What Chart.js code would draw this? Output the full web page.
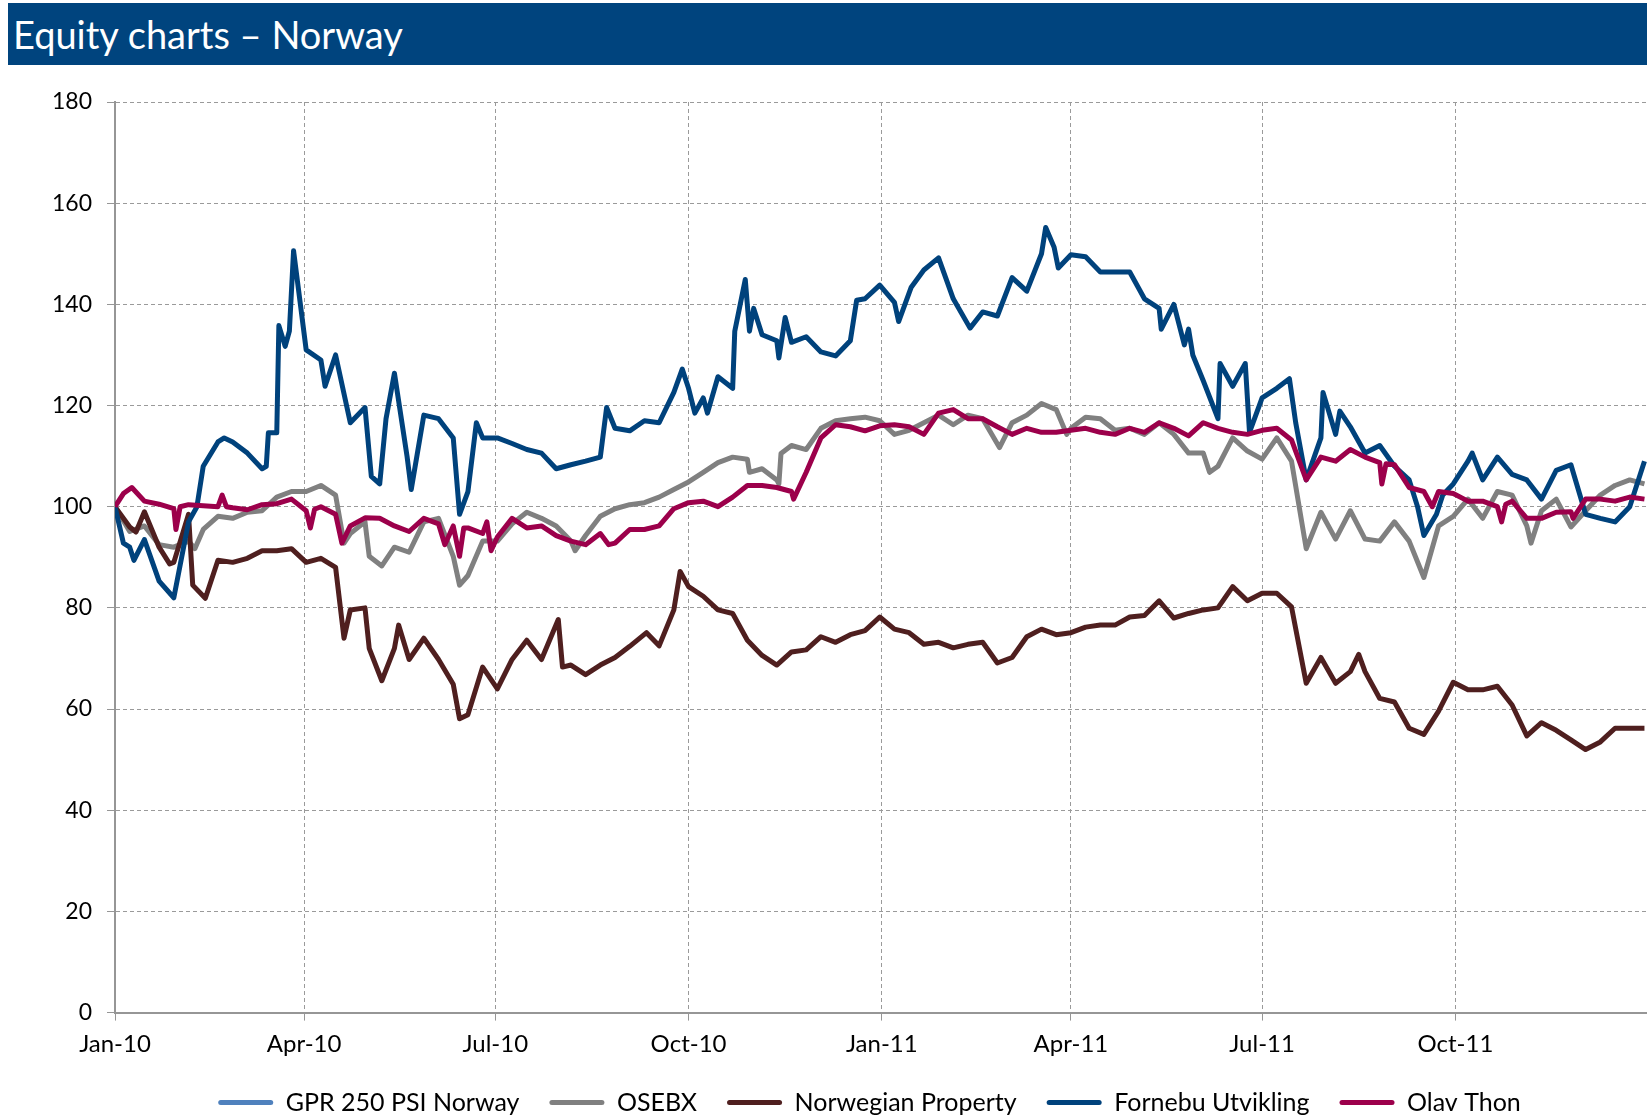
<!DOCTYPE html>
<html>
<head>
<meta charset="utf-8">
<title>Equity charts – Norway</title>
<script src="https://cdn.jsdelivr.net/npm/chart.js@4.4.1/dist/chart.umd.min.js"></script>
<style>
  html, body { margin: 0; padding: 0; background: #fff; overflow: hidden; width: 1647px; height: 1118px; }
  #title {
    position: absolute; left: 8px; top: 3px; width: 1639px; height: 62px;
    background: #00447e; color: #fff; font-family: Lato, sans-serif;
    font-size: 38px; line-height: 62px; padding-left: 5px; box-sizing: border-box; z-index: 2;
  }
  #mycanvas { position: absolute; left: 0; top: 0; }
</style>
</head>
<body>
<div id="title">Equity charts – Norway</div>
<canvas id="mycanvas" width="1739" height="1125"></canvas>
<script>
// x = calendar days since 1 Jan 2010, y = index (start = 100)
var tickDays = [0, 90, 181, 273, 365, 455, 546, 638];
var tickLabels = ['Jan-10', 'Apr-10', 'Jul-10', 'Oct-10', 'Jan-11', 'Apr-11', 'Jul-11', 'Oct-11'];

// no visible line for the index in the picture
var gprNorway = [];

var osebx = [
  [0,100],[7,95.1],[14,96.2],[21,92.5],[28,92],[35,93.2],[38,91.7],[42,95.5],[49,98.1],[56,97.7],
  [63,98.9],[70,99.2],[77,101.9],[84,103],[91,103],[98,104.2],[105,102.3],[109,92.8],[112,94.7],[119,97],
  [121,90.2],[127,88.3],[133,92],[140,91],[147,97],[154,97.7],[161,90.2],[164,84.5],[168,86.4],[175,93.2],
  [182,93.2],[189,96.6],[196,98.9],[203,97.7],[210,96.2],[217,93.2],[219,91.3],[224,94.3],[231,98.1],[238,99.6],
  [245,100.4],[252,100.8],[259,101.9],[266,103.4],[273,104.9],[280,106.8],[287,108.7],[294,109.8],[301,109.4],[302,106.8],
  [308,107.5],[315,105.3],[316,104.5],[317,110.5],[322,112.1],[329,111.3],[336,115.5],[343,117],[350,117.4],[357,117.7],
  [364,117],[371,114.3],[378,115.1],[385,116.6],[392,118.1],[399,116.2],[406,118.1],[413,117.4],[421,111.7],[427,116.6],
  [434,118.1],[441,120.4],[448,119.2],[453,114.3],[455,115.5],[462,117.7],[469,117.4],[476,115.1],[483,115.5],[490,114.3],
  [497,116.6],[504,114.3],[511,110.6],[518,110.6],[521,106.8],[525,108],[532,113.6],[539,111],[546,109.4],[553,113.6],
  [560,109],[567,91.7],[574,98.9],[581,93.6],[588,99.2],[595,93.6],[602,93.2],[609,97],[616,93.2],[623,86],
  [630,96.2],[637,98.1],[644,101.5],[651,97.7],[658,103],[665,102.3],[672,96.2],[674,92.8],[679,99.2],[686,101.5],
  [693,96],[700,99.2],[707,102.3],[714,104.2],[721,105.3],[728,104.5]
];

var norwegianProperty = [
  [0,100],[7,96],[10,95],[14,99],[21,92],[26,88.7],[28,89],[35,98.5],[37,84.5],[43,81.9],
  [49,89.4],[56,89],[63,89.8],[70,91.3],[77,91.3],[84,91.7],[91,89],[98,89.8],[105,88],[109,74],
  [112,79.6],[119,80],[121,72],[127,65.6],[133,72],[135,76.6],[140,69.8],[147,74],[154,69.8],[161,64.9],
  [164,58.1],[168,58.9],[175,68.3],[182,64],[189,69.8],[196,73.6],[203,69.8],[211,77.7],[213,68.3],[217,68.7],
  [224,66.8],[231,68.7],[238,70.2],[245,72.4],[253,75.1],[259,72.5],[266,79.6],[269,87.2],[273,84.2],[280,82.3],
  [287,79.6],[294,78.9],[301,73.6],[308,70.6],[315,68.7],[322,71.3],[329,71.7],[336,74.3],[343,73.2],[350,74.7],
  [357,75.5],[364,78.2],[371,75.8],[378,75.1],[385,72.8],[392,73.2],[399,72.1],[406,72.8],[413,73.2],[420,69.1],
  [427,70.2],[434,74.3],[441,75.8],[448,74.7],[455,75.1],[462,76.2],[469,76.6],[476,76.6],[483,78.2],[490,78.5],
  [497,81.4],[504,78],[511,78.9],[518,79.6],[525,80],[532,84.2],[539,81.4],[546,82.9],[553,82.9],[560,80.2],
  [567,65.1],[574,70.2],[581,65.1],[588,67.4],[592,70.8],[595,67.4],[602,62.1],[609,61.4],[616,56.2],[623,55],
  [630,59.6],[637,65.3],[644,63.8],[651,63.8],[658,64.5],[665,60.8],[672,54.7],[679,57.3],[686,55.8],[693,53.9],
  [700,52],[707,53.5],[714,56.2],[721,56.2],[728,56.2]
];

var fornebu = [
  [0,100],[4,92.8],[7,92],[9,89.4],[14,93.5],[21,85.3],[28,82],[35,97],[39,100],[42,108],
  [49,112.8],[52,113.6],[56,112.8],[63,110.6],[70,107.5],[72,108],[73,114.6],[77,114.6],[78,135.8],[81,131.7],
  [83,134.7],[85,150.6],[91,131],[98,129],[100,123.8],[105,130],[112,116.6],[119,119.6],[122,106],[126,104.5],
  [129,117.4],[133,126.4],[139,110],[141,103.4],[147,118.1],[154,117.4],[161,113.6],[164,98.5],[168,103],[172,116.6],
  [175,113.6],[182,113.6],[189,112.5],[196,111.3],[203,110.6],[210,107.5],[217,108.3],[224,109],[231,109.8],[234,119.6],
  [238,115.5],[245,115],[252,117],[259,116.6],[266,122.6],[270,127.2],[273,123.4],[276,118.5],[280,121.5],[282,118.5],
  [287,125.7],[294,123.4],[295,134.7],[300,144.9],[302,134.7],[304,139.2],[308,134],[315,132.8],[316,129.4],[319,137.4],
  [322,132.5],[329,133.6],[336,130.6],[343,129.8],[350,132.8],[353,140.8],[357,141.1],[364,143.8],[371,140.4],[373,136.6],
  [379,143.4],[385,146.8],[392,149.2],[399,141.1],[407,135.3],[413,138.5],[420,137.7],[427,145.3],[434,142.6],[441,150],
  [443,155.2],[447,151.3],[449,147.2],[455,149.8],[462,149.4],[469,146.4],[476,146.4],[483,146.4],[490,141.1],[497,139.2],
  [498,135.1],[504,140],[509,132],[511,135.1],[513,130],[518,124.9],[525,117.4],[526,128.3],[532,123.8],[538,128.3],
  [540,114.7],[546,121.5],[553,123.4],[559,125.3],[562,116.6],[567,105.3],[574,113.6],[575,122.6],[581,114.3],[583,118.9],
  [588,115.8],[595,110.6],[602,112.1],[609,108],[616,105.3],[620,100],[623,94.3],[629,98.5],[632,102.3],[637,104.5],
  [644,109],[646,110.6],[651,105.3],[658,109.8],[665,106.4],[672,105.3],[679,101.5],[686,107.2],[693,108.3],[700,98.5],
  [707,97.7],[714,97],[721,100],[728,109]
];

var olavThon = [
  [0,100],[4,102.6],[8,103.8],[14,101.1],[21,100.5],[28,99.6],[29,95.5],[31,100],[35,100.4],[42,100.2],
  [49,100],[51,102.3],[53,100],[56,99.8],[63,99.4],[70,100.4],[77,100.6],[84,101.5],[91,99.2],[93,95.8],
  [95,99.5],[98,100],[105,98.5],[108,92.8],[112,96.2],[119,97.8],[126,97.7],[133,96.2],[140,95.1],[147,97.7],
  [154,96.6],[157,92.5],[161,96.2],[164,90.2],[166,95.8],[168,95.8],[175,94.7],[177,97],[179,91.3],[182,94],
  [189,97.7],[196,95.8],[203,96.2],[210,94.3],[217,93.2],[224,92.5],[231,94.7],[235,92.5],[238,92.8],[245,95.5],
  [252,95.5],[259,96.2],[266,99.6],[273,100.8],[280,101.1],[287,100],[294,101.9],[301,104.2],[308,104.2],[315,103.8],
  [322,103],[323,101.5],[329,106.8],[336,113.6],[343,116.2],[350,115.8],[357,115],[364,116],[371,116.2],[378,115.8],
  [385,114.3],[392,118.5],[399,119.2],[406,117.4],[413,117.4],[420,115.8],[427,114.3],[434,115.5],[441,114.7],[448,114.7],
  [455,115.1],[462,115.5],[469,114.7],[476,114.3],[483,115.5],[490,114.7],[497,116.6],[504,115.5],[511,114],[518,116.6],
  [525,115.5],[532,114.7],[539,114.3],[546,115.1],[553,115.5],[560,113.2],[567,105.3],[574,109.8],[581,109],[588,111.3],
  [595,109.8],[602,108.7],[603,104.5],[605,108.5],[609,108.3],[616,103.8],[623,103],[627,100],[630,103],[637,102.6],
  [644,101.1],[651,101.1],[658,100],[660,97],[662,100.5],[665,101.1],[672,97.7],[679,97.7],[686,98.9],[693,99],
  [694,97.7],[700,101.5],[707,101.5],[714,101.1],[721,101.9],[728,101.5]
];

var seriesNames = ['GPR 250 PSI Norway', 'OSEBX', 'Norwegian Property', 'Fornebu Utvikling', 'Olav Thon'];
var seriesColors = ['#4f81bd', '#808080', '#4f1f1f', '#00427c', '#9c004b'];
var seriesValues = [gprNorway, osebx, norwegianProperty, fornebu, olavThon];

var datasets = [];
for (var s = 0; s < seriesNames.length; s++) {
  var pts = [];
  for (var i in seriesValues[s]) {
    pts.push({x: seriesValues[s][i][0], y: seriesValues[s][i][1]});
  }
  datasets.push({
    label: seriesNames[s],
    data: pts,
    borderColor: seriesColors[s],
    backgroundColor: seriesColors[s],
    borderWidth: 5,
    pointRadius: 0,
    tension: 0,
    borderJoinStyle: 'round',
    order: seriesNames.length - s   // later series drawn on top, like the original
  });
}

Chart.defaults.font.family = 'Lato, sans-serif';
Chart.defaults.color = '#000';

var gridColor = '#9a9a9a';
var axisColor = '#969696';

var ctx = document.getElementById('mycanvas');
var lineGraph = new Chart(ctx, {
  type: 'line',
  data: { datasets: datasets },
  options: {
    responsive: false,
    animation: false,
    devicePixelRatio: 1,
    layout: { padding: { top: 102, left: 0, right: 0, bottom: 0 } },
    scales: {
      x: {
        type: 'linear',
        min: 0,
        max: 773,
        afterBuildTicks: function(scale) {
          scale.ticks = tickDays.map(function(d) { return {value: d}; });
        },
        afterFit: function(scale) { scale.height = 47.4; },
        ticks: {
          callback: function(value) { return tickLabels[tickDays.indexOf(value)]; },
          font: { size: 24 },
          color: '#000',
          padding: 9,
          maxRotation: 0,
          autoSkip: false
        },
        grid: { color: gridColor, lineWidth: 1, tickLength: 8, tickColor: axisColor },
        border: { color: axisColor, width: 2, dash: [4, 3] }
      },
      y: {
        min: 0,
        max: 180,
        afterFit: function(scale) { scale.width = 115; },
        ticks: { stepSize: 20, font: { size: 23 }, color: '#000', padding: 15 },
        grid: { color: gridColor, lineWidth: 1, tickLength: 8, tickColor: axisColor },
        border: { color: axisColor, width: 2, dash: [4, 3] }
      }
    },
    plugins: {
      tooltip: { enabled: false },
      legend: {
        position: 'bottom',
        labels: {
          boxWidth: 55,
          boxHeight: 5,
          padding: 30,
          color: '#000',
          font: { size: 25 },
          useBorderRadius: true,
          borderRadius: 2.5,
          sort: function(a, b) { return a.datasetIndex - b.datasetIndex; },
          generateLabels: function(chart) {
            var items = Chart.defaults.plugins.legend.labels.generateLabels(chart);
            items.forEach(function(item) {
              item.lineWidth = 0;
              item.fillStyle = item.strokeStyle;
            });
            return items;
          }
        }
      }
    }
  }
});
</script>
</body>
</html>
